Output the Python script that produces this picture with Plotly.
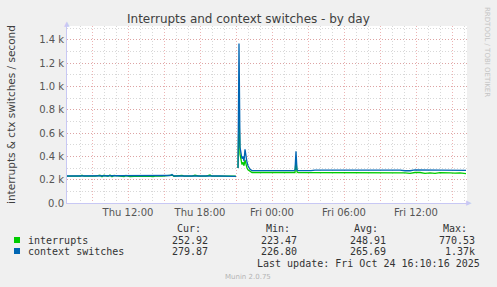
import plotly.graph_objects as go

# ---------------- data ----------------
times = [
    "2025-10-23 06:55", "2025-10-23 08:00", "2025-10-23 08:10", "2025-10-23 08:20",
    "2025-10-23 09:15", "2025-10-23 09:40", "2025-10-23 09:50", "2025-10-23 10:00",
    "2025-10-23 10:20", "2025-10-23 10:30", "2025-10-23 10:40", "2025-10-23 10:50",
    "2025-10-23 11:20", "2025-10-23 11:40", "2025-10-23 11:50", "2025-10-23 12:10",
    "2025-10-23 12:30", "2025-10-23 12:50", "2025-10-23 13:10", "2025-10-23 13:30",
    "2025-10-23 13:40", "2025-10-23 14:05", "2025-10-23 14:15", "2025-10-23 14:50",
    "2025-10-23 15:30", "2025-10-23 15:40", "2025-10-23 15:50", "2025-10-23 16:20",
    "2025-10-23 16:30", "2025-10-23 16:40", "2025-10-23 17:20", "2025-10-23 17:35",
    "2025-10-23 17:45", "2025-10-23 17:55", "2025-10-23 18:30", "2025-10-23 18:50",
    "2025-10-23 19:00", "2025-10-23 19:40", "2025-10-23 20:30", "2025-10-23 20:55",
    "2025-10-23 21:00", "2025-10-23 21:05", "2025-10-23 21:10", "2025-10-23 21:15",
    "2025-10-23 21:20", "2025-10-23 21:25", "2025-10-23 21:30", "2025-10-23 21:35",
    "2025-10-23 21:40", "2025-10-23 21:45", "2025-10-23 21:50", "2025-10-23 21:55",
    "2025-10-23 22:00", "2025-10-23 22:10", "2025-10-23 22:20", "2025-10-23 22:40",
    "2025-10-23 23:10", "2025-10-23 23:40", "2025-10-23 23:50", "2025-10-24 00:00",
    "2025-10-24 00:30", "2025-10-24 01:00", "2025-10-24 01:30", "2025-10-24 01:50",
    "2025-10-24 01:55", "2025-10-24 02:00", "2025-10-24 02:05", "2025-10-24 02:10",
    "2025-10-24 02:20", "2025-10-24 02:45", "2025-10-24 03:05", "2025-10-24 03:15",
    "2025-10-24 03:35", "2025-10-24 04:00", "2025-10-24 04:30", "2025-10-24 04:50",
    "2025-10-24 05:20", "2025-10-24 05:40", "2025-10-24 06:10", "2025-10-24 06:30",
    "2025-10-24 07:00", "2025-10-24 07:20", "2025-10-24 07:45", "2025-10-24 08:10",
    "2025-10-24 08:35", "2025-10-24 09:00", "2025-10-24 09:25", "2025-10-24 09:50",
    "2025-10-24 10:15", "2025-10-24 10:40", "2025-10-24 11:05", "2025-10-24 11:30",
    "2025-10-24 11:55", "2025-10-24 12:20", "2025-10-24 12:45", "2025-10-24 13:10",
    "2025-10-24 13:35", "2025-10-24 14:00", "2025-10-24 14:25", "2025-10-24 14:50",
    "2025-10-24 15:15", "2025-10-24 15:40", "2025-10-24 16:10",
]

context_switches = [
    232, 232, 236, 232, 232, 233, 232, 234, 232, 236, 232, 233,
    232, 232, 233, 232, 233, 232, 232, 232, 232, 233, 232, 232,
    236, 244, 232, 232, 234, 232, 232, 234, 233, 232, 232, 236,
    232, 232, 232, 232, 228, None, 300, 1370, 480, 420, 380, 400,
    360, 460, 380, 350, 320, 290, 278, 278, 278, 282, 278, 278,
    280, 278, 280, 278, 285, 445, 285, 278, 278, 278, 272, 278,
    283, 283, 285, 283, 285, 283, 284, 283, 283, 287, 283, 285,
    283, 284, 283, 285, 283, 283, 277, 277, 284, 284, 284, 284,
    284, 284, 284, 284, 284, 284, 281,
]

interrupts = [
    230, 230, 238, 230, 231, 238, 226, 238, 229, 240, 226, 237,
    230, 227, 236, 226, 228, 229, 231, 227, 231, 227, 230, 231,
    234, 240, 230, 231, 237, 230, 231, 238, 236, 230, 231, 240,
    230, 231, 231, 230, 226, None, 300, 770, 420, 360, 330, 350,
    320, 370, 320, 300, 285, 270, 262, 262, 262, 262, 262, 262,
    262, 262, 262, 262, 262, 360, 268, 262, 262, 258, 262, 262,
    262, 262, 262, 262, 264, 262, 262, 262, 262, 262, 258, 262,
    262, 262, 262, 262, 262, 262, 258, 255, 262, 262, 255, 258,
    254, 260, 256, 258, 256, 258, 253,
]

series_names = ["interrupts", "context switches"]
series_colors = ["#00cc00", "#0066b3"]
stat_headers = ["Cur:", "Min:", "Avg:", "Max:"]
stats = [
    ["252.92", "223.47", "248.91", "770.53"],
    ["279.87", "226.80", "265.69", "1.37k"],
]
y_tick_values = [0, 200, 400, 600, 800, 1000, 1200, 1400]
y_tick_labels = ["0.0", "0.2 k", "0.4 k", "0.6 k", "0.8 k", "1.0 k", "1.2 k", "1.4 k"]
title_text = "Interrupts and context switches - by day"
y_title = "interrupts & ctx switches / second"
last_update = "Last update: Fri Oct 24 16:10:16 2025"
footer = "Munin 2.0.75"
side_text = "RRDTOOL / TOBI OETIKER"

# ---------------- figure ----------------
W, H = 497, 287
L, R, T, B = 67, 30, 26, 84
PW, PH = W - L - R, H - T - B


def px(x):
    return (x - L) / PW


def py(y):
    return (H - B - y) / PH


fig = go.Figure()
fig.add_trace(go.Scatter(x=times, y=interrupts, mode="lines", name=series_names[0],
                         line=dict(color=series_colors[0], width=1.3), connectgaps=False))
fig.add_trace(go.Scatter(x=times, y=context_switches, mode="lines", name=series_names[1],
                         line=dict(color=series_colors[1], width=1.3), connectgaps=False))

grid_major = "rgba(225,130,130,0.6)"
grid_minor = "rgba(190,190,190,0.6)"
axis_col = "#c8c8f4"
tick_font = dict(family="DejaVu Sans", size=10, color="#555555")

fig.update_layout(
    width=W, height=H,
    margin=dict(l=L, r=R, t=T, b=B),
    paper_bgcolor="#f0f0f0", plot_bgcolor="#ffffff",
    showlegend=False, hovermode=False,
    font=dict(family="DejaVu Sans", color="#333333"),
)
fig.update_xaxes(
    type="date",
    range=["2025-10-23 06:55", "2025-10-24 16:15"],
    tickmode="linear", tick0="2025-10-23 00:00", dtick=3 * 3600 * 1000,
    ticklabelstep=2, tickformat="%a %H:%M",
    tickfont=tick_font, ticks="", ticklen=0,
    showgrid=True, gridcolor=grid_major, griddash="1px,2px", gridwidth=1,
    minor=dict(dtick=3600 * 1000, tick0="2025-10-23 00:00", showgrid=True,
               gridcolor=grid_minor, griddash="1px,2px", gridwidth=1),
    showline=True, linecolor=axis_col, linewidth=1, mirror=False,
    zeroline=False, fixedrange=True,
)
fig.update_yaxes(
    range=[0, 1520],
    tickmode="array", tickvals=y_tick_values, ticktext=y_tick_labels,
    tickfont=tick_font, ticks="", ticklen=0,
    showgrid=True, gridcolor=grid_major, griddash="1px,2px", gridwidth=1,
    minor=dict(dtick=100, tick0=0, showgrid=True,
               gridcolor=grid_minor, griddash="1px,2px", gridwidth=1),
    showline=True, linecolor=axis_col, linewidth=1,
    zeroline=False, fixedrange=True,
)

ann = []
# title
ann.append(dict(text=title_text, x=px(248), y=py(19), xref="paper", yref="paper",
                showarrow=False, font=dict(family="DejaVu Sans", size=12, color="#404040"),
                xanchor="center", yanchor="middle"))
# y title
ann.append(dict(text=y_title, x=px(11), y=py(115), xref="paper", yref="paper",
                showarrow=False, textangle=-90,
                font=dict(family="DejaVu Sans", size=10.5, color="#404040"),
                xanchor="center", yanchor="middle"))
# side text
ann.append(dict(text=side_text, x=px(487), y=py(52), xref="paper", yref="paper",
                showarrow=False, textangle=90,
                font=dict(family="DejaVu Sans", size=7, color="#c4c4c4"),
                xanchor="center", yanchor="middle"))
# axis arrows
ann.append(dict(text="\u25b6", x=px(469), y=py(203), xref="paper", yref="paper",
                showarrow=False, font=dict(family="DejaVu Sans", size=7, color=axis_col),
                xanchor="center", yanchor="middle"))
ann.append(dict(text="\u25b2", x=px(67), y=py(24), xref="paper", yref="paper",
                showarrow=False, font=dict(family="DejaVu Sans", size=7, color=axis_col),
                xanchor="center", yanchor="middle"))

mono = dict(family="DejaVu Sans Mono", size=10, color="#333333")
header_right = [203, 292, 380, 469]
value_right = [210, 299, 388, 477]
for h, xr in zip(stat_headers, header_right):
    ann.append(dict(text=h, x=px(xr), y=py(228), xref="paper", yref="paper",
                    showarrow=False, font=mono, xanchor="right", yanchor="middle"))
row_y = [240, 251]
shapes = []
for i, name in enumerate(series_names):
    ann.append(dict(text=name, x=px(26), y=py(row_y[i]), xref="paper", yref="paper",
                    showarrow=False, font=mono, xanchor="left", yanchor="middle"))
    shapes.append(dict(type="rect", xref="paper", yref="paper",
                       x0=px(14), x1=px(20), y0=py(row_y[i] + 3), y1=py(row_y[i] - 3),
                       fillcolor=series_colors[i], line=dict(width=0)))
    for v, xr in zip(stats[i], value_right):
        ann.append(dict(text=v, x=px(xr), y=py(row_y[i]), xref="paper", yref="paper",
                        showarrow=False, font=mono, xanchor="right", yanchor="middle"))
ann.append(dict(text=last_update, x=px(482), y=py(263), xref="paper", yref="paper",
                showarrow=False, font=mono, xanchor="right", yanchor="middle"))
ann.append(dict(text=footer, x=px(248), y=py(277), xref="paper", yref="paper",
                showarrow=False, font=dict(family="DejaVu Sans", size=7, color="#b4b4b4"),
                xanchor="center", yanchor="middle"))

fig.update_layout(annotations=ann, shapes=shapes)
fig.write_html("out.html", config=dict(displayModeBar=False))
